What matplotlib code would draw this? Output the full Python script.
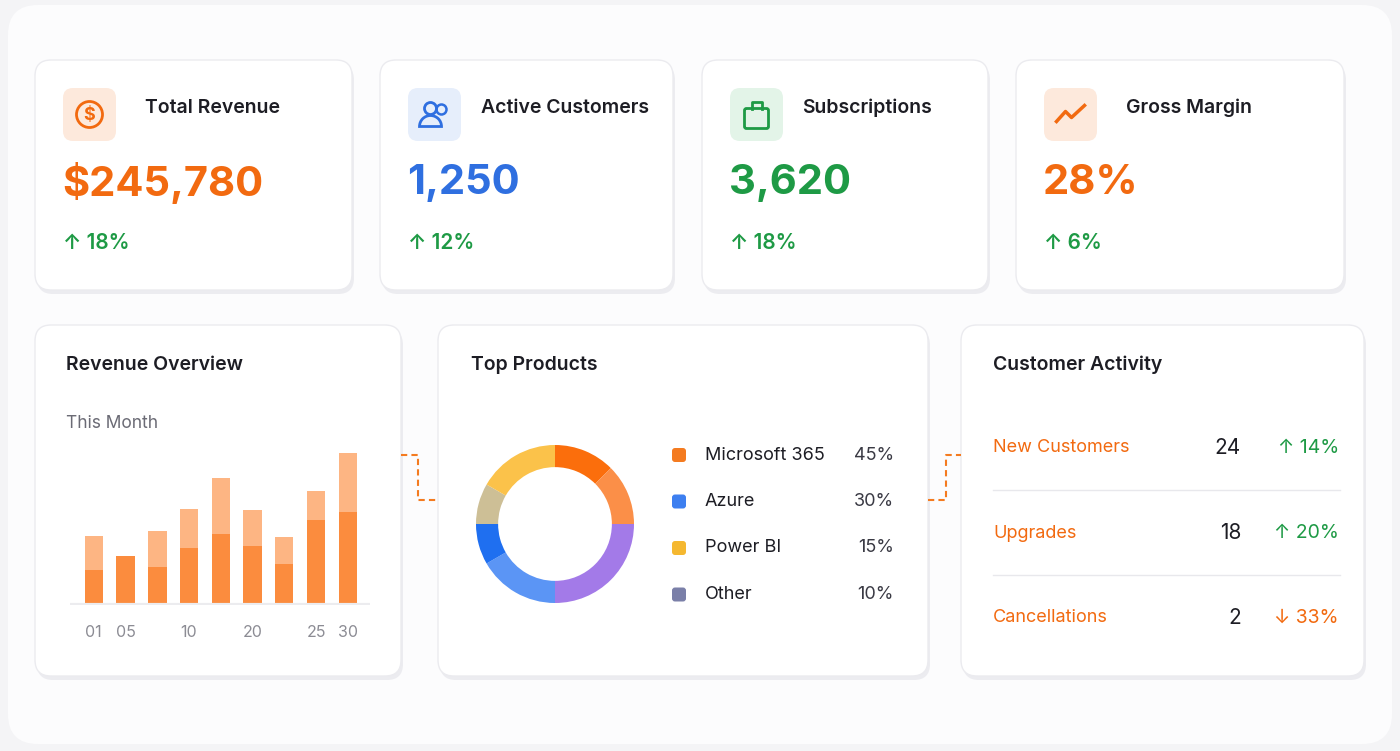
import numpy as np
import matplotlib.pyplot as plt
from matplotlib.patches import FancyBboxPatch, Circle, Wedge

plt.rcParams['font.family'] = ['Inter', 'DejaVu Sans']

# KPI cards
kpi_titles = ['Total Revenue', 'Active Customers', 'Subscriptions', 'Gross Margin']
kpi_values = ['$245,780', '1,250', '3,620', '28%']
kpi_changes = ['18%', '12%', '18%', '6%']
kpi_colors = ['#f26a10', '#2f6fe0', '#1e9a45', '#f26a10']
kpi_icon_bg = ['#fde9dc', '#e6eefb', '#e3f4e8', '#fde9dc']

# revenue bars (days of month)
bar_days = ['01', '05', '', '10', '', '20', '', '25', '30']
bar_total = [68, 48, 73, 95, 125, 94, 67, 113, 150]
bar_lower = [35, 48, 38, 56, 70, 58, 40, 84, 92]

# top products
products = ['Microsoft 365', 'Azure', 'Power BI', 'Other']
product_share = [45, 30, 15, 10]
product_colors = ['#f47b20', '#3d7ff0', '#f5b830', '#7a7fa8']
ring_sizes = [45, 45, 90, 60, 30, 30, 60]
ring_colors = ['#fb6e0c', '#fb8f48', '#a37ae8', '#5b95f5', '#1f6ff0', '#cdbf96', '#fbc24a']

# customer activity
act_labels = ['New Customers', 'Upgrades', 'Cancellations']
act_counts = [24, 18, 2]
act_pct = [14, 20, 33]
act_up = [True, True, False]

W, H = 1400, 751
fig = plt.figure(figsize=(14, 7.51), dpi=100)
fig.patch.set_facecolor('#f4f4f6')
ax = fig.add_axes([0, 0, 1, 1])
ax.set_xlim(0, W)
ax.set_ylim(H, 0)
ax.axis('off')

ax.add_patch(FancyBboxPatch((8, 5), W - 16, H - 12, boxstyle='round,pad=0,rounding_size=30',
                            fc='#fcfcfd', ec='none'))


def card(x0, y0, x1, y1):
    ax.add_patch(FancyBboxPatch((x0 + 2, y0 + 4), x1 - x0, y1 - y0,
                                boxstyle='round,pad=0,rounding_size=16', fc='#ececf0', ec='none'))
    ax.add_patch(FancyBboxPatch((x0, y0), x1 - x0, y1 - y0,
                                boxstyle='round,pad=0,rounding_size=16', fc='white', ec='#ebebef', lw=1))


top_cards = [(35, 60, 352, 290), (380, 60, 673, 290), (702, 60, 988, 290), (1016, 60, 1344, 290)]
title_off = [110, 101, 100, 110]
for i, (x0, y0, x1, y1) in enumerate(top_cards):
    card(x0, y0, x1, y1)
    ix, iy = x0 + 28, y0 + 28
    ax.add_patch(FancyBboxPatch((ix, iy), 53, 53, boxstyle='round,pad=0,rounding_size=10',
                                fc=kpi_icon_bg[i], ec='none'))
    cx, cy = ix + 26.5, iy + 26.5
    c = kpi_colors[i]
    if i == 0:
        ax.add_patch(Circle((cx, cy), 13, fc='none', ec=c, lw=2))
        ax.text(cx, cy + 1, '$', color=c, fontsize=13, ha='center', va='center', fontweight='bold')
    elif i == 1:
        ax.add_patch(Circle((cx - 4, cy - 6), 6, fc='none', ec=c, lw=2))
        ax.add_patch(Wedge((cx - 4, cy + 12), 11, 180, 360, fc='none', ec=c, lw=2))
        ax.add_patch(Circle((cx + 7, cy - 5), 5, fc='none', ec=c, lw=1.8))
    elif i == 2:
        ax.add_patch(FancyBboxPatch((cx - 12, cy - 6), 24, 20, boxstyle='round,pad=0,rounding_size=2',
                                    fc='none', ec=c, lw=2))
        ax.plot([cx - 5, cx - 5, cx + 5, cx + 5], [cy - 6, cy - 13, cy - 13, cy - 6], color=c, lw=2)
    else:
        ax.plot([cx - 14, cx - 5, cx + 1, cx + 14], [cy + 7, cy - 3, cy + 3, cy - 9], color=c, lw=2.5)
    ax.text(x0 + title_off[i], y0 + 48, kpi_titles[i], fontsize=14, fontweight='semibold',
            color='#1d1d24', va='center')
    ax.text(x0 + 27, y0 + 123, kpi_values[i], fontsize=30, fontweight='bold', color=c, va='center')
    ax.text(x0 + 28, y0 + 183, '↑ ' + kpi_changes[i], fontsize=15, fontweight='semibold',
            color='#1e9a45', va='center')

bottom_cards = [(35, 325, 401, 676), (438, 325, 928, 676), (961, 325, 1364, 676)]
for b in bottom_cards:
    card(*b)

# dashed connectors
ax.plot([401, 418, 418, 438], [455, 455, 500, 500], color='#f47b20', lw=1.5, ls=(0, (3, 2)))
ax.plot([928, 946, 946, 961], [500, 500, 455, 455], color='#f47b20', lw=1.5, ls=(0, (3, 2)))

# Revenue overview
ax.text(66, 365, 'Revenue Overview', fontsize=14, fontweight='semibold', color='#1d1d24', va='center')
ax.text(66, 423, 'This Month', fontsize=12.5, color='#6b6b75', va='center')
bax = fig.add_axes([70 / W, 1 - 605 / H, 300 / W, 160 / H])
xs = np.arange(len(bar_total))
bax.bar(xs, bar_total, width=0.58, color='#fdb583', edgecolor='none')
bax.bar(xs, bar_lower, width=0.58, color='#fb8c3e', edgecolor='none')
bax.axhline(0, color='#ececef', lw=3)
bax.set_xlim(-0.75, len(xs) - 0.3)
bax.set_ylim(0, 158)
bax.axis('off')
for x, lab in zip(xs, bar_days):
    bax.text(x, -27, lab, ha='center', va='center', fontsize=11.5, color='#8c8c94')

# Top products
ax.text(471, 365, 'Top Products', fontsize=14, fontweight='semibold', color='#1d1d24', va='center')
dax = fig.add_axes([(555 - 79) / W, 1 - (524 + 79) / H, 158 / W, 158 / H])
dax.pie(ring_sizes, colors=ring_colors, startangle=90, counterclock=False,
        wedgeprops=dict(width=0.28, edgecolor='none'))
dax.set_xlim(-1, 1)
dax.set_ylim(-1, 1)
dax.set_aspect('equal')
for k, (name, pct, col) in enumerate(zip(products, product_share, product_colors)):
    y = 455 + k * 46.5
    ax.add_patch(FancyBboxPatch((672, y - 7), 14, 14, boxstyle='round,pad=0,rounding_size=3',
                                fc=col, ec='none'))
    ax.text(705, y, name, fontsize=13, color='#1d1d24', va='center')
    ax.text(894, y, f'{pct}%', fontsize=13, color='#3a3a44', va='center', ha='right')

# Customer activity
ax.text(993, 365, 'Customer Activity', fontsize=14, fontweight='semibold', color='#1d1d24', va='center')
for k in range(len(act_labels)):
    y = 448 + k * 85
    ax.text(993, y, act_labels[k], fontsize=13, color='#f26a10', va='center')
    ax.text(1241, y, str(act_counts[k]), fontsize=15, color='#1d1d24', va='center', ha='right')
    col = '#1e9a45' if act_up[k] else '#f26a10'
    arrow = '↑' if act_up[k] else '↓'
    ax.text(1339, y, f'{arrow} {act_pct[k]}%', fontsize=14, color=col, va='center', ha='right')
    if k < 2:
        ax.plot([993, 1340], [y + 42, y + 42], color='#e8e8ec', lw=1)

fig.savefig('out.png', dpi=100, facecolor=fig.get_facecolor())
